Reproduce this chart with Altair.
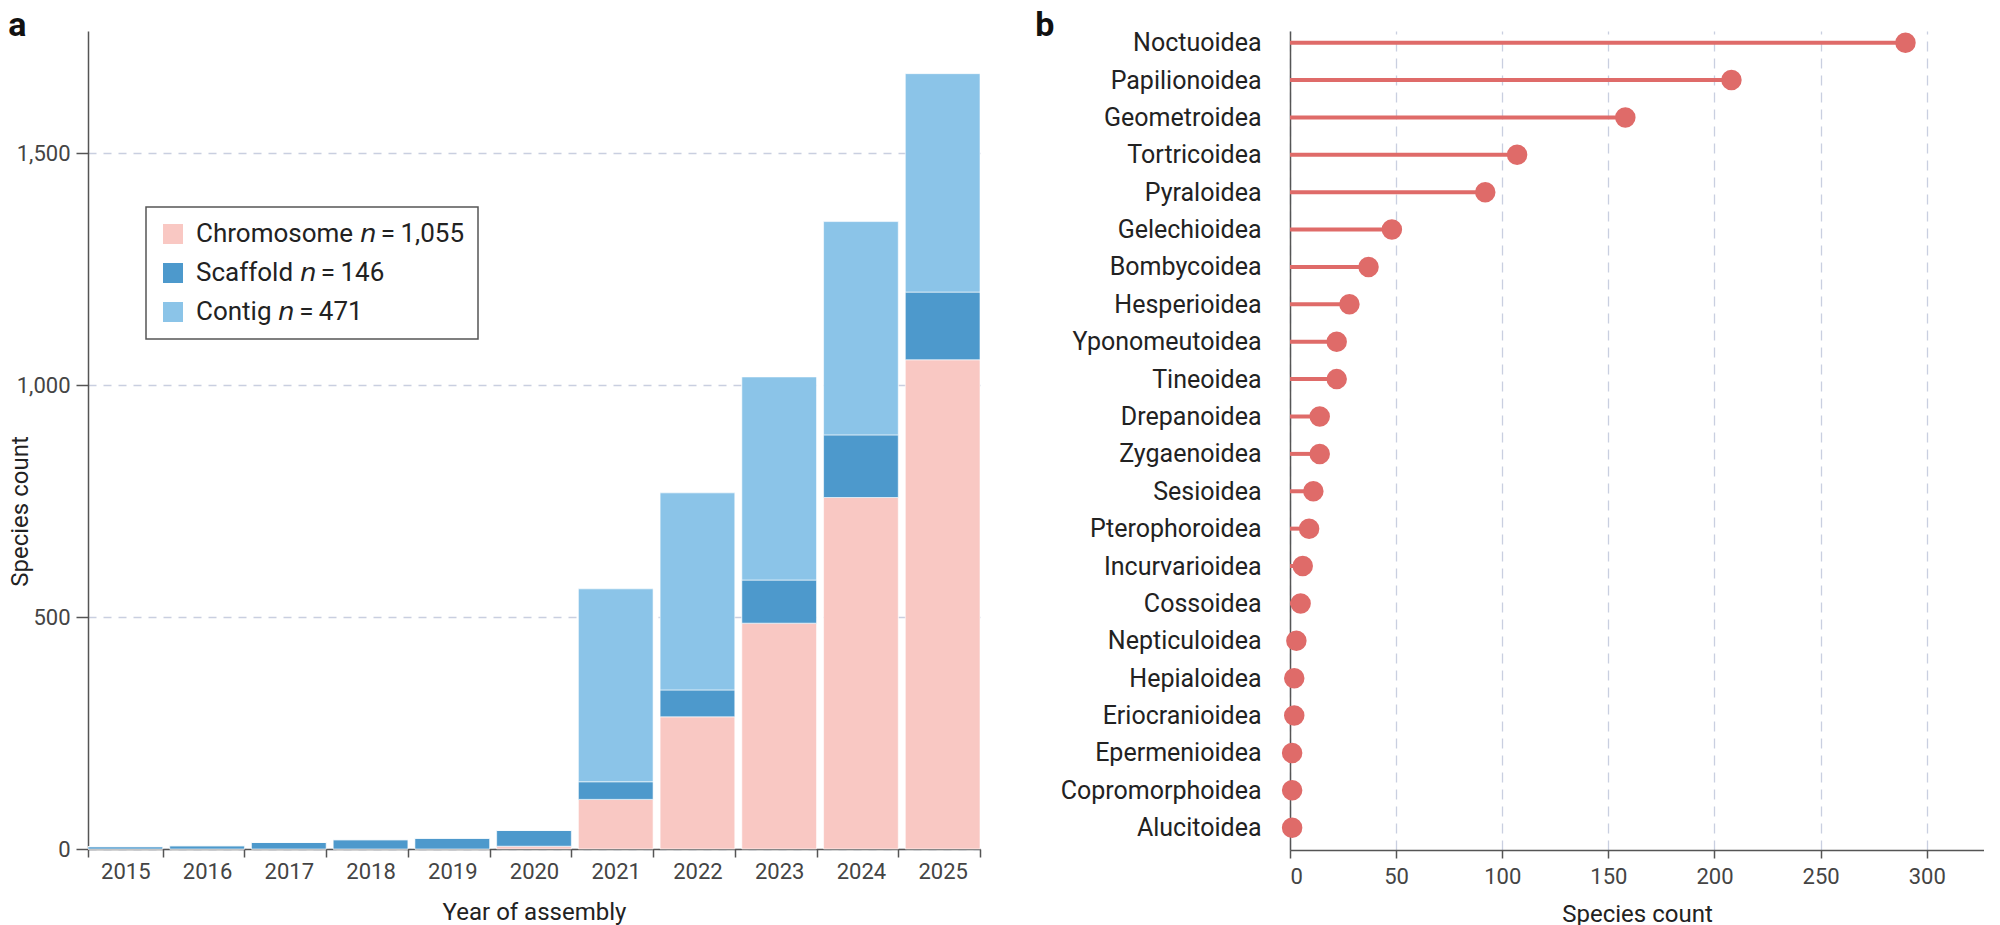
import altair as alt
import pandas as pd

# ---------------- Panel a data (cumulative species count by assembly level) ----------------
years = ["2015", "2016", "2017", "2018", "2019", "2020", "2021", "2022", "2023", "2024", "2025"]
chromosome = [0, 0, 0, 0, 0, 6, 107, 285, 487, 758, 1055]
scaffold = [5, 7, 14, 20, 23, 34, 38, 58, 93, 135, 146]
contig = [0, 0, 0, 0, 0, 0, 416, 425, 438, 460, 471]
level_labels = ["Chromosome \U0001D62F\u2009=\u20091,055",
                "Scaffold \U0001D62F\u2009=\u2009146",
                "Contig \U0001D62F\u2009=\u2009471"]
level_colors = ["#f9c8c3", "#4d99cc", "#8bc4e8"]

# ---------------- Panel b data (species count by superfamily) ----------------
superfamilies = ["Noctuoidea", "Papilionoidea", "Geometroidea", "Tortricoidea", "Pyraloidea",
                 "Gelechioidea", "Bombycoidea", "Hesperioidea", "Yponomeutoidea", "Tineoidea",
                 "Drepanoidea", "Zygaenoidea", "Sesioidea", "Pterophoroidea", "Incurvarioidea",
                 "Cossoidea", "Nepticuloidea", "Hepialoidea", "Eriocranioidea", "Epermenioidea",
                 "Copromorphoidea", "Alucitoidea"]
species_counts = [290, 208, 158, 107, 92, 48, 37, 28, 22, 22, 14, 14, 11, 9, 6, 5, 3, 2, 2, 1, 1, 1]

FONT = "Roboto"
LOLLI = "#df6b69"
GRID = "#c9cfe0"

rows = []
for i, yr in enumerate(years):
    for k, (lab, vals) in enumerate(zip(level_labels, [chromosome, scaffold, contig])):
        rows.append({"year": yr, "level": lab, "order": k, "count": vals[i]})
df_a = pd.DataFrame(rows)

panel_a = alt.Chart(df_a).mark_bar(stroke="white", strokeWidth=0.6).encode(
    x=alt.X("year:O", title="Year of assembly",
            scale=alt.Scale(paddingInner=0.086, paddingOuter=0),
            axis=alt.Axis(labelAngle=0, tickBand="extent", tickSize=8, labelFontSize=22,
                          labelPadding=4, titleFontSize=24, titleBaseline="alphabetic",
                          titleY=70, grid=False)),
    y=alt.Y("count:Q", stack="zero", title="Species count",
            scale=alt.Scale(domain=[0, 1764], nice=False),
            axis=alt.Axis(values=[0, 500, 1000, 1500], format=",.0f", tickSize=12,
                          labelFontSize=22, labelPadding=6, titleFontSize=24,
                          titlePadding=-16, titleY=480,
                          grid=True, gridDash=[8, 7], gridColor=GRID, gridWidth=1.3)),
    color=alt.Color("level:N", scale=alt.Scale(domain=level_labels, range=level_colors),
                    legend=alt.Legend(title=None, orient="none", legendX=58, legendY=176,
                                      symbolType="square", symbolSize=400, symbolStrokeWidth=0,
                                      labelFontSize=26, labelFont=FONT, labelColor="#222",
                                      labelOffset=10, labelLimit=0, padding=14,
                                      strokeColor="#555", fillColor="white")),
    order=alt.Order("order:Q"),
).properties(
    width=892, height=818,
    title=alt.TitleParams("a", anchor="start", fontSize=34, fontWeight="bold", font=FONT,
                          color="#111", offset=-12),
)

df_b = pd.DataFrame({"superfamily": superfamilies, "count": species_counts})
base_b = alt.Chart(df_b).transform_calculate(zero="0").encode(
    y=alt.Y("superfamily:N", sort=superfamilies,
            scale=alt.Scale(type="point", padding=0.455, align=0.344),
            axis=alt.Axis(title=None, ticks=False, labelPadding=29, labelFontSize=25,
                          labelLimit=0, labelColor="#222", grid=False))
)
x_scale = alt.Scale(domain=[0, 327], nice=False)
rules_b = base_b.mark_rule(color=LOLLI, strokeWidth=4).encode(
    x=alt.X("zero:Q", scale=x_scale, title="Species count",
            axis=alt.Axis(values=[0, 50, 100, 150, 200, 250, 300], tickSize=8, labelFontSize=22,
                          labelPadding=8, titleFontSize=24, titleBaseline="alphabetic",
                          titleY=71,
                          grid=True, gridDash=[10, 7], gridColor=GRID, gridWidth=1.3)),
    x2="count:Q",
)
dots_b = base_b.mark_circle(size=420, color=LOLLI, opacity=1).encode(
    x=alt.X("count:Q", scale=x_scale),
)
panel_b = alt.layer(rules_b, dots_b).properties(
    width=694, height=819,
    title=alt.TitleParams("b", anchor="start", fontSize=34, fontWeight="bold", font=FONT,
                          color="#111", offset=-12, dx=-25),
)

chart = alt.hconcat(panel_a, panel_b, spacing=54).properties(
    padding={"left": 0, "top": 0, "right": 0, "bottom": 0}
).configure_axis(
    labelFont=FONT, titleFont=FONT, labelColor="#444", titleColor="#222",
    titleFontWeight="normal", domainColor="#555", tickColor="#555",
    domainWidth=1.5, tickWidth=1.5,
).configure_legend(
    rowPadding=13, strokeWidth=1.5,
).configure_view(strokeWidth=0)

chart.save("out.html", embed_options={"renderer": "svg", "actions": False})
